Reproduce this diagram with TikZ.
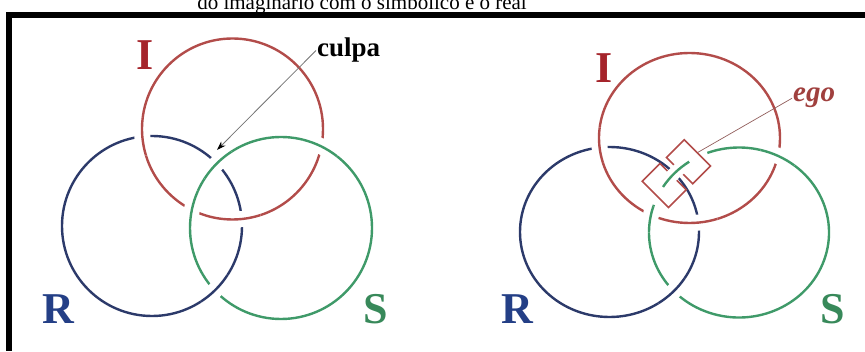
\documentclass[tikz,border=0pt]{standalone}
\usepackage{fontspec}
\setmainfont{Liberation Serif}
\usetikzlibrary{
  arrows.meta,
  positioning,
  calc
}
\definecolor{rsiRed}{HTML}{B24C4A}
\definecolor{rsiRedLbl}{HTML}{A5242B}
\definecolor{rsiBlue}{HTML}{2C3A6A}
\definecolor{rsiBlueLbl}{HTML}{243F86}
\definecolor{rsiGreen}{HTML}{3F9A69}
\definecolor{rsiGreenLbl}{HTML}{38895A}
\definecolor{rsiEgo}{HTML}{A0403E}
\tikzset{
  ring/.style={line width=2.4pt},
  redring/.style={ring, draw=rsiRed},
  bluering/.style={ring, draw=rsiBlue},
  greenring/.style={ring, draw=rsiGreen},
  over/.style={preaction={draw=white, line width=16pt}},
  letter/.style={font=\fontsize{44}{44}\selectfont\bfseries, anchor=base, inner sep=0pt},
  tag/.style={anchor=base west, inner sep=1pt},
  pointer/.style={draw=black!55, line width=0.8pt},
  egolink/.style={draw=rsiRed, line width=1.6pt, rotate=-45, minimum width=37pt,
    minimum height=25pt, inner sep=0pt}
}

\begin{document}
\begin{tikzpicture}[x=1pt, y=1pt]
  \useasboundingbox (0,0) rectangle (865,351);
  \clip (0,0) rectangle (865,351);

  % title (cut off at the top) and frame
  \node[font=\fontsize{21}{21}\selectfont, anchor=base] (title) at (362,341.5)
    {do imaginário com o simbólico e o real};
  \fill[black] (6,333) rectangle (865,339);
  \fill[black] (6,0) rectangle (12,339);

  % left: culpa
  \coordinate (cI) at (232.5,222);
  \coordinate (cR) at (152,125);
  \coordinate (cS) at (281,123);
  \draw[bluering] (cR) circle[radius=90pt];
  \draw[redring] (cI) circle[radius=90.5pt];
  \draw[greenring] (cS) circle[radius=91pt];
  \draw[redring, over] ($(cI)+(173:90.5pt)$) arc[start angle=173, end angle=197, radius=90.5pt];
  \draw[redring, over] ($(cI)+(264:90.5pt)$) arc[start angle=264, end angle=288, radius=90.5pt];
  \draw[greenring, over] ($(cS)+(52:91pt)$) arc[start angle=52, end angle=76, radius=91pt];
  \draw[greenring, over] ($(cS)+(156:91pt)$) arc[start angle=156, end angle=180, radius=91pt];
  \draw[greenring, over] ($(cS)+(123:91pt)$) arc[start angle=123, end angle=147, radius=91pt];
  \draw[bluering, over] ($(cR)+(303:90pt)$) arc[start angle=303, end angle=327, radius=90pt];

  \node[letter, text=rsiRedLbl] (lI) at (145,281) {I};
  \node[letter, text=rsiBlueLbl] (lR) at (58,28) {R};
  \node[letter, text=rsiGreenLbl] (lS) at (376,28) {S};
  \node[tag, font=\fontsize{27}{27}\selectfont\bfseries] (culpa) at (316,294) {culpa};
  \coordinate (culpatip) at (217,201);
  \draw[pointer, -{Stealth[length=9pt, width=6pt, color=black]}] (culpa.west) -- (culpatip);

  % right: ego
  \coordinate (dI) at (689.5,213);
  \coordinate (dR) at (609.5,119);
  \coordinate (dS) at (739,118.5);
  \draw[bluering] (dR) ellipse[x radius=89.5pt, y radius=85pt];
  \draw[redring] (dI) ellipse[x radius=90.5pt, y radius=85pt];
  \draw[greenring] ($(dS)+(161:90pt and 85pt)$)
    arc[start angle=161, end angle=470.6, x radius=90pt, y radius=85pt];
  \draw[redring, over] ($(dI)+(173:90.5pt and 85pt)$)
    arc[start angle=173, end angle=197, x radius=90.5pt, y radius=85pt];
  \draw[redring, over] ($(dI)+(264:90.5pt and 85pt)$)
    arc[start angle=264, end angle=288, x radius=90.5pt, y radius=85pt];
  \draw[greenring, over] ($(dS)+(52:90pt and 85pt)$)
    arc[start angle=52, end angle=76, x radius=90pt, y radius=85pt];
  \draw[greenring, over] ($(dS)+(162:90pt and 85pt)$)
    arc[start angle=162, end angle=180, x radius=90pt, y radius=85pt];
  \draw[bluering, over] ($(dR)+(303:89.5pt and 85pt)$)
    arc[start angle=303, end angle=327, x radius=89.5pt, y radius=85pt];

  \node[egolink] (linkA) at (688.5,189.25) {};
  \node[egolink] (linkB) at (664.25,165.5) {};
  \draw[greenring, preaction={draw=white, line width=13pt}] ($(dS)+(123.6:90pt and 85pt)$)
    arc[start angle=123.6, end angle=147.6, x radius=90pt, y radius=85pt];

  \node[letter, text=rsiRedLbl] (mI) at (604,268) {I};
  \node[letter, text=rsiBlueLbl] (mR) at (517,28) {R};
  \node[letter, text=rsiGreenLbl] (mS) at (833,28) {S};
  \node[tag, text=rsiEgo, font=\fontsize{29}{29}\selectfont\bfseries\itshape] (ego) at (792,249) {ego};
  \draw[draw=rsiEgo!55!gray, line width=0.7pt] (ego.west) -- (linkA.north);
\end{tikzpicture}
\end{document}
